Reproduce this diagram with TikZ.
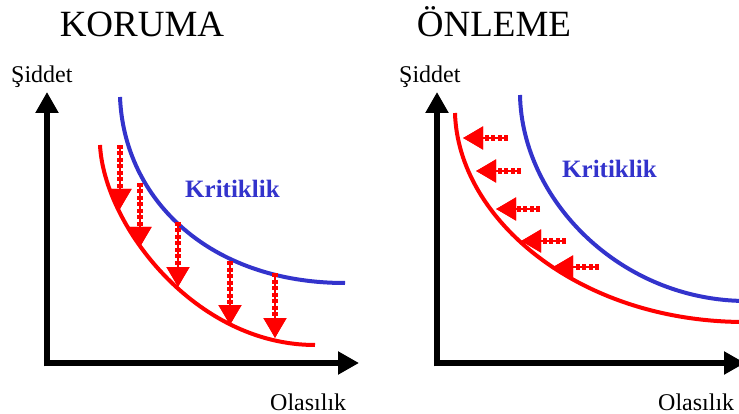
\documentclass[tikz,border=0pt]{standalone}
\usepackage{fontspec}
\setmainfont{Liberation Serif}
\usetikzlibrary{arrows.meta}
\definecolor{krit}{RGB}{51,51,204}
\definecolor{risk}{RGB}{255,0,0}
\tikzset{
  axis/.style={line width=6.5pt, -{Triangle[width=22pt,length=21pt]}},
  title/.style={anchor=base, inner sep=0pt, font=\fontsize{37}{40}\selectfont},
  lbl/.style={anchor=base west, inner sep=0pt, font=\fontsize{24}{26}\selectfont},
  kritlbl/.style={anchor=base west, inner sep=0pt, text=krit, font=\fontsize{25}{27}\selectfont\bfseries},
  curve/.style={line width=4pt},
  chain/.style={risk, line width=6pt, dash pattern=on 4pt off 2.5pt,
    preaction={draw, risk, line width=2pt, solid},
    -{Triangle[width=22pt,length=20pt]}}
}
\begin{document}
\begin{tikzpicture}[x=1pt, y=-1pt]
  \useasboundingbox (0,0) rectangle (739,414);
  % Left panel: KORUMA
  \node[title] (tL) at (142,37) {KORUMA};
  \node[lbl] (yL) at (11,83) {Şiddet};
  \node[lbl] (xL) at (270,410) {Olasılık};
  \coordinate (oL) at (47,363);
  \coordinate (yTopL) at (47,92);
  \coordinate (xEndL) at (359,363);
  \draw[axis] (oL) ++(0,3.25) -- (yTopL);
  \draw[axis] (oL) ++(-3.25,0) -- (xEndL);
  \draw[curve, krit] (120,97) .. controls (124,200) and (210,283) .. (345,283);
  \draw[curve, risk] (100,145) .. controls (104,225) and (195,345) .. (315,345);
  \node[kritlbl] (kL) at (185,198) {Kritiklik};
  % protection arrows (down)
  \foreach \x/\ya/\yb in {120/145/209, 140/183/247, 178/222/287, 230/261/325, 275/273/338}
    \draw[chain] (\x,\ya) -- (\x,\yb);
  % Right panel: ONLEME
  \node[title] (tR) at (494,37) {ÖNLEME};
  \node[lbl] (yR) at (399,83) {Şiddet};
  \node[lbl] (xR) at (658,410) {Olasılık};
  \coordinate (oR) at (437,363);
  \coordinate (yTopR) at (437,92);
  \coordinate (xEndR) at (745,363);
  \draw[axis] (oR) ++(0,3.25) -- (yTopR);
  \draw[axis] (oR) ++(-3.25,0) -- (xEndR);
  \draw[curve, krit] (520,95) .. controls (522,200) and (620,300) .. (745,301);
  \draw[curve, risk] (455,113) .. controls (458,220) and (580,322) .. (745,322);
  \node[kritlbl] (kR) at (562,178) {Kritiklik};
  % prevention arrows (left)
  \foreach \y/\xa/\xb in {138/508/463, 171/521/476, 209/540/496, 241/566/521, 267/599/553}
    \draw[chain] (\xa,\y) -- (\xb,\y);
\end{tikzpicture}
\end{document}
